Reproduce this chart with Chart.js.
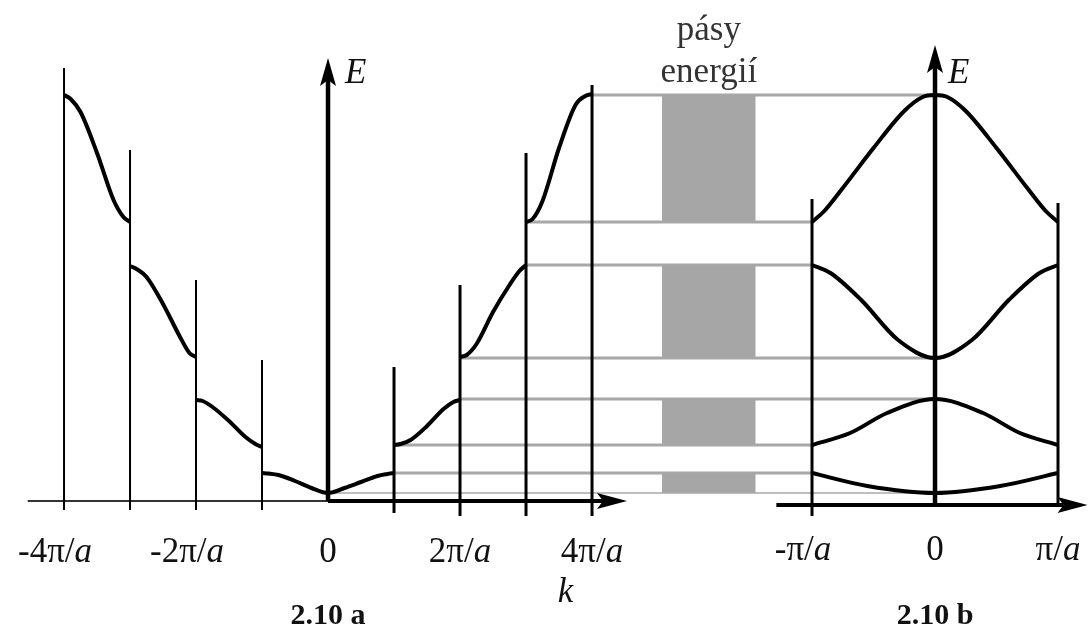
<!DOCTYPE html>
<html>
<head>
<meta charset="utf-8">
<script src="https://cdn.jsdelivr.net/npm/chart.js@4/dist/chart.umd.min.js"></script>
<style>
  html, body { margin: 0; padding: 0; background: #fff; }
  canvas { display: block; }
</style>
</head>
<body>
<canvas id="pasy" width="1089" height="632"></canvas>
<script>
// k in units of pi/a, energy in arbitrary units (0 = bottom of band 1)

// 2.10 a - extended zone, one piece per zone
const b4LeftK = [-4, -3.9, -3.75, -3.5, -3.25, -3.1, -3];
const b4LeftE = [398, 394, 381, 340, 293, 276, 271];
const b3LeftK = [-3, -2.9, -2.75, -2.5, -2.25, -2.1, -2];
const b3LeftE = [227, 224, 216, 189, 157, 140, 136];
const b2LeftK = [-2, -1.9, -1.75, -1.5, -1.25, -1.1, -1];
const b2LeftE = [93, 92, 86, 72, 56, 49, 46];
const b1K = [-1, -0.9, -0.75, -0.5, -0.25, 0, 0.25, 0.5, 0.75, 0.9, 1];
const b1E = [20, 19.5, 18, 12, 5, 0, 5, 11, 17, 19, 20];
const b2RightK = [1, 1.1, 1.25, 1.5, 1.75, 1.9, 2];
const b2RightE = [48, 49, 53, 67, 84, 91, 93];
const b3RightK = [2, 2.1, 2.25, 2.5, 2.75, 2.9, 3];
const b3RightE = [136, 138, 149, 181, 208, 222, 228];
const b4RightK = [3, 3.1, 3.25, 3.5, 3.75, 3.9, 4];
const b4RightE = [271, 274, 292, 345, 388, 397, 399];

// 2.10 b - reduced zone
const r4K = [-1, -0.9, -0.75, -0.5, -0.25, -0.1, 0, 0.1, 0.25, 0.5, 0.75, 0.9, 1];
const r4E = [271, 282, 305, 345, 382, 396, 398, 396, 382, 345, 305, 282, 271];
const r3K = [-1, -0.85, -0.6, -0.3, 0, 0.3, 0.6, 0.85, 1];
const r3E = [228, 220, 193, 153, 135, 153, 193, 220, 228];
const r2K = [-1, -0.69, -0.39, 0, 0.39, 0.69, 1];
const r2E = [48, 60, 80, 94, 80, 60, 48];
const r1K = [-1, -0.55, 0, 0.53, 1];
const r1E = [20, 7, 0, 7, 20];

// allowed bands (gray boxes)
const bandBottom = [0, 48, 135, 271];
const bandTop = [20, 94, 228, 398];

// gray guides: level, k where it leaves 2.10 a, k where it meets 2.10 b
const guideE = [398, 271, 228, 135, 94, 48, 20, 0];
const guideKext = [4, 3, 3, 2, 2, 1, 1, 0];
const guideKred = [0, -1, -1, 0, 0, -1, -1, 0];

// zone boundary lines
const zoneK = [-4, -3, -2, -1, 1, 2, 3, 4];
const zoneTop = [425, 343, 213, 133, 126, 208, 340, 408];
const zoneBottom = [-17, -17, -17, -17, -20, -23, -23, -23];
const redZoneK = [-1, 1];
const redZoneTop = [294, 290];
const redZoneBottom = [-23, -12];

// tick labels
const extTicksK = [-4, -2, 0, 2, 4];
const extTicks = [['-4π/', 'a'], ['-2π/', 'a'], ['0', ''], ['2π/', 'a'], ['4π/', 'a']];
const redTicksK = [-1, 0, 1];
const redTicks = [['-π/', 'a'], ['0', ''], ['π/', 'a']];

const SERIF = '"Liberation Serif", "DejaVu Serif", serif';
const GRAY = '#a6a6a6';
const boxK = [5.06, 6.48];

const pts = (ks, es) => ks.map((k, i) => ({ x: k, y: es[i] }));

function curve(ks, es, axis) {
  return {
    data: pts(ks, es), xAxisID: axis, yAxisID: 'y',
    borderColor: '#000', borderWidth: 4, pointRadius: 0,
    cubicInterpolationMode: 'monotone', fill: false, order: 1
  };
}

function stick(k, lo, hi, axis, w) {
  return {
    data: [{ x: k, y: lo }, { x: k, y: hi }], xAxisID: axis, yAxisID: 'y',
    borderColor: '#000', borderWidth: w, pointRadius: 0, tension: 0, fill: false, order: 2
  };
}

const datasets = [];
// gray boxes
bandBottom.forEach((lo, i) => {
  datasets.push({
    data: [{ x: boxK[0], y: bandTop[i] }, { x: boxK[1], y: bandTop[i] }],
    xAxisID: 'xa', yAxisID: 'y', fill: { value: lo },
    backgroundColor: GRAY, borderColor: GRAY, borderWidth: 0, pointRadius: 0, order: 5
  });
});
zoneK.forEach((k, i) => datasets.push(stick(k, zoneBottom[i], zoneTop[i], 'xa', k < 0 ? 2 : 3)));
redZoneK.forEach((k, i) => datasets.push(stick(k, redZoneBottom[i], redZoneTop[i], 'xb', 3)));
[
  [b4LeftK, b4LeftE], [b3LeftK, b3LeftE], [b2LeftK, b2LeftE], [b1K, b1E],
  [b2RightK, b2RightE], [b3RightK, b3RightE], [b4RightK, b4RightE]
].forEach(([k, e]) => datasets.push(curve(k, e, 'xa')));
[[r4K, r4E], [r3K, r3E], [r2K, r2E], [r1K, r1E]].forEach(([k, e]) => datasets.push(curve(k, e, 'xb')));

function arrowHead(ctx, x, y, dir) {
  ctx.beginPath();
  if (dir === 'up') {
    ctx.moveTo(x, y);
    ctx.lineTo(x - 8, y + 28);
    ctx.lineTo(x, y + 22);
    ctx.lineTo(x + 8, y + 28);
  } else {
    ctx.moveTo(x, y);
    ctx.lineTo(x - 30, y - 8);
    ctx.lineTo(x - 24, y);
    ctx.lineTo(x - 30, y + 8);
  }
  ctx.closePath();
  ctx.fill();
}

function line(ctx, x1, y1, x2, y2, w, c) {
  ctx.strokeStyle = c;
  ctx.lineWidth = w;
  ctx.beginPath();
  ctx.moveTo(x1, y1);
  ctx.lineTo(x2, y2);
  ctx.stroke();
}

function tickText(ctx, x, y, parts) {
  const up = '35px ' + SERIF, it = 'italic 35px ' + SERIF;
  ctx.font = up;
  const w1 = ctx.measureText(parts[0]).width;
  ctx.font = it;
  const w2 = ctx.measureText(parts[1]).width;
  let x0 = x - (w1 + w2) / 2;
  if (parts[0].startsWith('-')) x0 -= 9;
  ctx.textAlign = 'left';
  ctx.font = up;
  ctx.fillText(parts[0], x0, y);
  ctx.font = it;
  ctx.fillText(parts[1], x0 + w1, y);
}

const drawing = {
  id: 'drawing',
  beforeDatasetsDraw(chart) {
    const { ctx, scales: { xa, xb, y } } = chart;
    ctx.save();
    guideE.forEach((e, i) => {
      const py = y.getPixelForValue(e);
      line(ctx, xa.getPixelForValue(guideKext[i]), py, xb.getPixelForValue(guideKred[i]), py,
        e === 0 ? 1.5 : 3, '#a8a8a8');
    });

    ctx.fillStyle = '#000';
    // 2.10 a axes
    const ay = y.getPixelForValue(-8);
    const x0 = xa.getPixelForValue(0);
    line(ctx, xa.getPixelForValue(-4.55), ay, x0, ay, 2, '#333');
    line(ctx, x0, ay, xa.getPixelForValue(4.53) - 24, ay, 4, '#000');
    arrowHead(ctx, xa.getPixelForValue(4.53), ay, 'right');
    line(ctx, x0, ay, x0, y.getPixelForValue(435) + 22, 4.5, '#000');
    arrowHead(ctx, x0, y.getPixelForValue(435), 'up');

    // 2.10 b axes
    const by = y.getPixelForValue(-12);
    const c0 = xb.getPixelForValue(0);
    line(ctx, xb.getPixelForValue(-1.29), by, xb.getPixelForValue(1.24) - 24, by, 4, '#000');
    arrowHead(ctx, xb.getPixelForValue(1.24), by, 'right');
    line(ctx, c0, by, c0, y.getPixelForValue(448) + 22, 4.5, '#000');
    arrowHead(ctx, c0, y.getPixelForValue(448), 'up');
    ctx.restore();
  },
  afterDatasetsDraw(chart) {
    const { ctx, scales: { xa, xb, y } } = chart;
    ctx.save();
    ctx.fillStyle = '#111';
    ctx.textBaseline = 'alphabetic';

    const ay = y.getPixelForValue(-8);
    const by = y.getPixelForValue(-12);
    extTicksK.forEach((k, i) => tickText(ctx, xa.getPixelForValue(k), ay + 61, extTicks[i]));
    redTicksK.forEach((k, i) => tickText(ctx, xb.getPixelForValue(k), by + 55, redTicks[i]));

    ctx.font = 'italic 35px ' + SERIF;
    ctx.textAlign = 'center';
    ctx.fillText('k', xa.getPixelForValue(3.6), ay + 101);
    ctx.textAlign = 'left';
    ctx.fillText('E', xa.getPixelForValue(0) + 17, y.getPixelForValue(410));
    ctx.fillText('E', xb.getPixelForValue(0) + 13, y.getPixelForValue(410));

    ctx.font = '35px ' + SERIF;
    ctx.textAlign = 'center';
    const mid = xa.getPixelForValue((boxK[0] + boxK[1]) / 2);
    ctx.fillStyle = '#333';
    ctx.fillText('pásy', mid, 40);
    ctx.fillText('energií', mid, 82);

    ctx.fillStyle = '#111';
    ctx.font = 'bold 30px ' + SERIF;
    ctx.fillText('2.10 a', xa.getPixelForValue(0), 624);
    ctx.fillText('2.10 b', xb.getPixelForValue(0), 624);
    ctx.restore();
  }
};

new Chart(document.getElementById('pasy'), {
  type: 'line',
  data: { datasets },
  options: {
    responsive: false,
    animation: false,
    devicePixelRatio: 1,
    events: [],
    layout: { padding: 0 },
    plugins: { legend: { display: false }, tooltip: { enabled: false } },
    scales: {
      xa: { type: 'linear', min: -4.97, max: 11.53, display: false },
      xb: { type: 'linear', min: -7.602, max: 1.252, display: false },
      y: { type: 'linear', min: -139, max: 493, display: false }
    }
  },
  plugins: [drawing]
});
</script>
</body>
</html>
